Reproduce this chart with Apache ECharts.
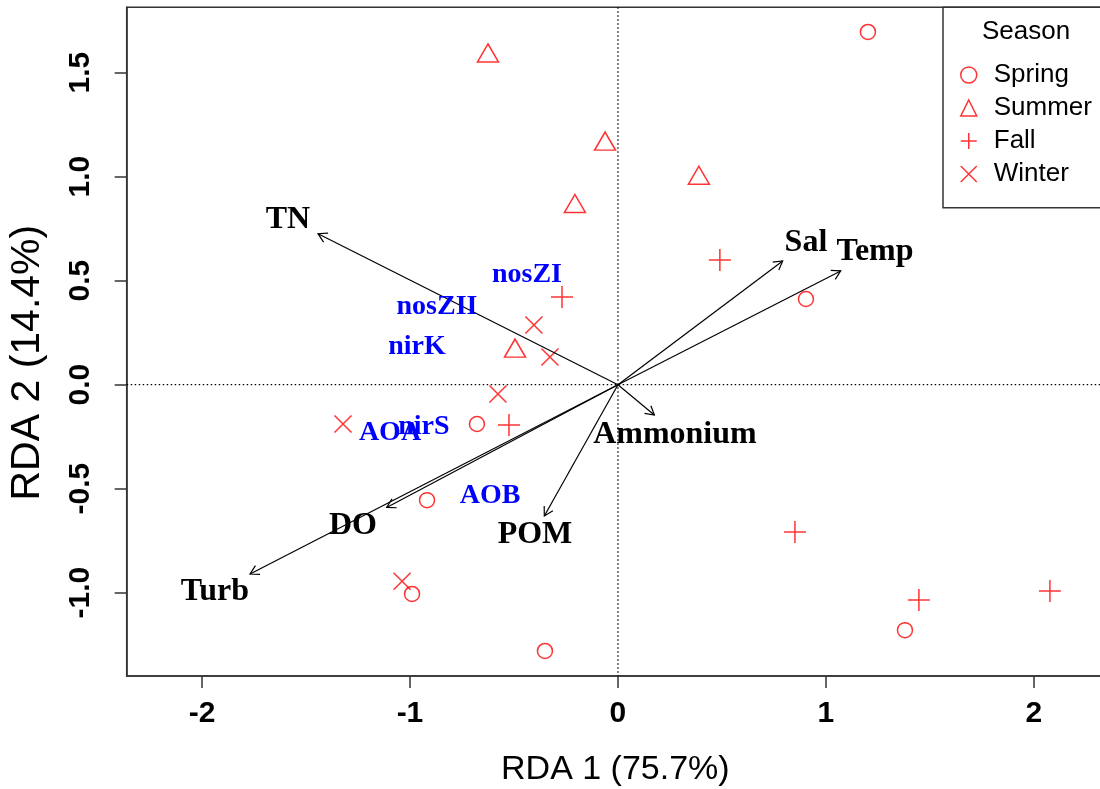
<!DOCTYPE html>
<html>
<head>
<meta charset="utf-8">
<script src="https://cdn.jsdelivr.net/npm/echarts@6/dist/echarts.min.js"></script>
<style>html,body{margin:0;padding:0;background:#fff;}#c{width:1100px;height:789px;}</style>
</head>
<body>
<div id="c"></div>
<script>
// ---- data (site scores by season) ----
const spring = [[1.202,1.696],[0.904,0.412],[-0.678,-0.189],[-0.918,-0.555],[-0.990,-1.006],[-0.351,-1.280],[1.380,-1.180]];
const summer = [[-0.625,1.595],[-0.062,1.171],[0.389,1.007],[-0.207,0.871],[-0.495,0.176]];
const fall   = [[0.490,0.600],[-0.269,0.422],[-0.524,-0.194],[0.851,-0.708],[1.447,-1.035],[2.077,-0.992]];
const winter = [[-0.404,0.287],[-0.327,0.133],[-0.577,-0.045],[-1.322,-0.189],[-1.038,-0.945]];
// environmental arrows (tips) and their label positions
const envNames  = ['TN','Sal','Temp','Ammonium','POM','DO','Turb'];
const envArrows = [[-1.442,0.726],[0.792,0.595],[1.071,0.547],[0.175,-0.146],[-0.354,-0.631],[-1.112,-0.590],[-1.769,-0.910]];
const envLabels = [[-1.587,0.792],[0.904,0.681],[1.236,0.638],[0.274,-0.242],[-0.399,-0.722],[-1.274,-0.679],[-1.938,-0.997]];
// gene (species) scores
const geneNames = ['nosZI','nosZII','nirK','AOA','nirS','AOB'];
const genePos   = [[-0.4375,0.527],[-0.870,0.374],[-0.966,0.181],[-1.096,-0.232],[-0.933,-0.203],[-0.615,-0.535]];
// ticks
const xTicks = [-2,-1,0,1,2];
const yTicks = [-1.0,-0.5,0.0,0.5,1.0,1.5];
const seasons = ['Spring','Summer','Fall','Winter'];

const RED = '#FF0000';
const PLUS = 'path://M0,-1L0,1M-1,0L1,0';
const CROSS = 'path://M-1,-1L1,1M-1,1L1,-1';
const ptStyle = {color:'transparent', borderColor:RED, borderWidth:1.5};

const chart = echarts.init(document.getElementById('c'), null, {renderer:'canvas'});

function scatter(name, data, symbol, size){
  return {type:'scatter', name, data, symbol, symbolSize:size, itemStyle:ptStyle,
    emphasis:{disabled:true}, silent:true, z:3};
}

chart.setOption({
  animation:false,
  backgroundColor:'#fff',
  grid:{left:126.7, right:-4, top:7.3, bottom:113, show:true, borderColor:'#333', borderWidth:1.5,
        containLabel:false, outerBoundsMode:'none'},
  xAxis:{type:'value', min:-2.362, max:2.337,
    axisLine:{show:true, onZero:false, lineStyle:{color:'#333', width:1.5}},
    axisTick:{show:true, length:12, customValues:xTicks, lineStyle:{color:'#333', width:1.5}},
    axisLabel:{customValues:xTicks, formatter:v=>String(v), margin:23, fontSize:30, fontWeight:'bold',
      color:'#000', fontFamily:'Liberation Sans'},
    splitLine:{show:false},
    name:'RDA 1 (75.7%)', nameLocation:'middle', nameGap:77,
    nameTextStyle:{fontSize:34, color:'#000', fontFamily:'Liberation Sans'}},
  yAxis:{type:'value', min:-1.4005, max:1.8144,
    axisLine:{show:true, onZero:false, lineStyle:{color:'#333', width:1.5}},
    axisTick:{show:true, length:12, customValues:yTicks, lineStyle:{color:'#333', width:1.5}},
    axisLabel:{customValues:yTicks, formatter:v=>v.toFixed(1), rotate:90, margin:31, fontSize:30,
      fontWeight:'bold', color:'#000', fontFamily:'Liberation Sans'},
    splitLine:{show:false},
    name:'RDA 2 (14.4%)', nameLocation:'middle', nameGap:79, nameRotate:90,
    nameTextStyle:{fontSize:41, color:'#000', fontFamily:'Liberation Sans', padding:[0,42,0,0]}},
  legend:{show:true, orient:'vertical', left:943, top:7.3, selectedMode:false,
    padding:[54.7,22,20.7,17], itemGap:7, itemWidth:16, itemHeight:16,
    borderColor:'#333', borderWidth:1.5, borderRadius:0,
    textStyle:{fontSize:26, color:'#000', fontFamily:'Liberation Sans', padding:[0,0,0,12]},
    data:[
      {name:'Spring', icon:'circle', itemStyle:ptStyle},
      {name:'Summer', icon:'triangle', itemStyle:ptStyle},
      {name:'Fall', icon:PLUS, itemStyle:ptStyle},
      {name:'Winter', icon:CROSS, itemStyle:ptStyle}
    ]},
  graphic:[{type:'text', x:1026, y:32, style:{text:'Season', fontSize:26, fontFamily:'Liberation Sans',
    fill:'#000', align:'center', verticalAlign:'middle'}}],
  series:[
    {type:'custom', name:'zero', silent:true, z:1, data:[[0,0]],
      renderItem(params, api){
        const cs = params.coordSys; const o = api.coord([0,0]);
        const st = {stroke:'#000', lineWidth:1.3, lineDash:[1.5,2.5]};
        return {type:'group', children:[
          {type:'line', shape:{x1:cs.x, y1:o[1], x2:cs.x+cs.width, y2:o[1]}, style:st},
          {type:'line', shape:{x1:o[0], y1:cs.y, x2:o[0], y2:cs.y+cs.height}, style:st}
        ]};
      }},
    scatter('Spring', spring, 'circle', 15),
    scatter('Summer', summer, 'triangle', [21,18]),
    scatter('Fall', fall, PLUS, 22),
    scatter('Winter', winter, CROSS, 17),
    {type:'custom', name:'arrows', silent:true, z:4, data:envArrows,
      renderItem(params, api){
        const o = api.coord([0,0]);
        const p = api.coord([api.value(0), api.value(1)]);
        const ang = Math.atan2(p[1]-o[1], p[0]-o[0]);
        const L = 10, a = Math.PI/6;
        const h1 = [p[0]-L*Math.cos(ang-a), p[1]-L*Math.sin(ang-a)];
        const h2 = [p[0]-L*Math.cos(ang+a), p[1]-L*Math.sin(ang+a)];
        return {type:'group', children:[
          {type:'line', shape:{x1:o[0], y1:o[1], x2:p[0], y2:p[1]}, style:{stroke:'#000', lineWidth:1.2}},
          {type:'polyline', shape:{points:[h1,p,h2]}, style:{stroke:'#000', lineWidth:1.2, fill:null}}
        ]};
      }},
    {type:'custom', name:'envLabels', silent:true, z:5, data:envLabels,
      renderItem(params, api){
        const p = api.coord([api.value(0), api.value(1)]);
        return {type:'text', x:p[0], y:p[1], style:{text:envNames[params.dataIndex], fontSize:32,
          fontWeight:'bold', fontFamily:'Liberation Serif', fill:'#000', align:'center', verticalAlign:'middle'}};
      }},
    {type:'custom', name:'geneLabels', silent:true, z:5, data:genePos,
      renderItem(params, api){
        const p = api.coord([api.value(0), api.value(1)]);
        return {type:'text', x:p[0], y:p[1], style:{text:geneNames[params.dataIndex], fontSize:28,
          fontWeight:'bold', fontFamily:'Liberation Serif', fill:'#0000FF', align:'center', verticalAlign:'middle'}};
      }}
  ]
});
</script>
</body>
</html>
